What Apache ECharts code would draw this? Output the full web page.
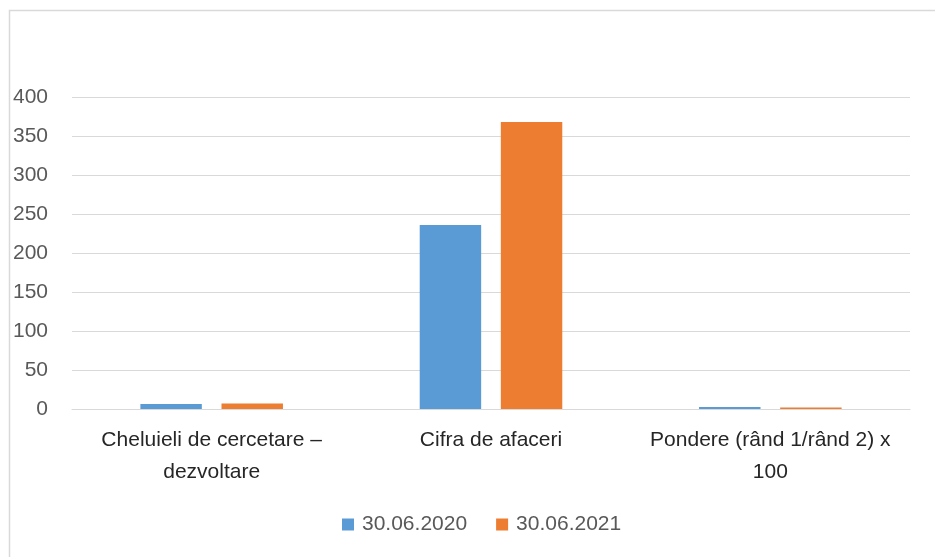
<!DOCTYPE html>
<html>
<head>
<meta charset="utf-8">
<script src="https://cdn.jsdelivr.net/npm/echarts@6/dist/echarts.min.js"></script>
<style>
  html, body { margin: 0; padding: 0; background: #fff; }
  #chart { width: 935px; height: 557px; }
</style>
</head>
<body>
<div id="chart"></div>
<script>
// date
var categories = ["Cheluieli de cercetare –\ndezvoltare", "Cifra de afaceri", "Pondere (rând 1/rând 2) x\n100"];
var seriesNames = ["30.06.2020", "30.06.2021"];
var values2020 = [6.5, 236, 2.6];
var values2021 = [7, 368, 1.9];
var colors = ["#5B9BD5", "#ED7D31"];

var font = "Liberation Sans";
var mychart = echarts.init(document.getElementById("chart"));
mychart.setOption({
  animation: false,
  textStyle: { fontFamily: font },
  // chenarul graficului
  graphic: [{
    type: "rect",
    shape: { x: 9.5, y: 10.5, width: 1000, height: 1000 },
    style: { fill: null, stroke: "#D9D9D9", lineWidth: 1.5 }
  }],
  grid: { left: 72, right: 25, top: 97, bottom: 148 },
  legend: {
    top: 509,
    left: 337,
    itemWidth: 12,
    itemHeight: 12,
    itemGap: 29,
    icon: "rect",
    textStyle: { fontSize: 21, color: "#595959", fontFamily: font, padding: [0, 0, 0, 3] },
    data: seriesNames
  },
  xAxis: {
    type: "category",
    data: categories,
    axisLine: { lineStyle: { color: "#D9D9D9", width: 1 } },
    axisTick: { show: false },
    axisLabel: { interval: 0, hideOverlap: false, color: "#262626", fontSize: 21, margin: 15, lineHeight: 32, fontFamily: font }
  },
  yAxis: {
    type: "value",
    min: 0,
    max: 400,
    interval: 50,
    axisLine: { show: false },
    axisTick: { show: false },
    axisLabel: { color: "#595959", fontSize: 21, margin: 24, fontFamily: font },
    splitLine: { lineStyle: { color: "#D9D9D9", width: 1 } }
  },
  series: [
    {
      name: seriesNames[0],
      type: "bar",
      data: values2020,
      barWidth: "22%",
      barGap: "32%",
      itemStyle: { color: colors[0] }
    },
    {
      name: seriesNames[1],
      type: "bar",
      data: values2021,
      barWidth: "22%",
      barGap: "32%",
      itemStyle: { color: colors[1] }
    }
  ]
});
</script>
</body>
</html>
